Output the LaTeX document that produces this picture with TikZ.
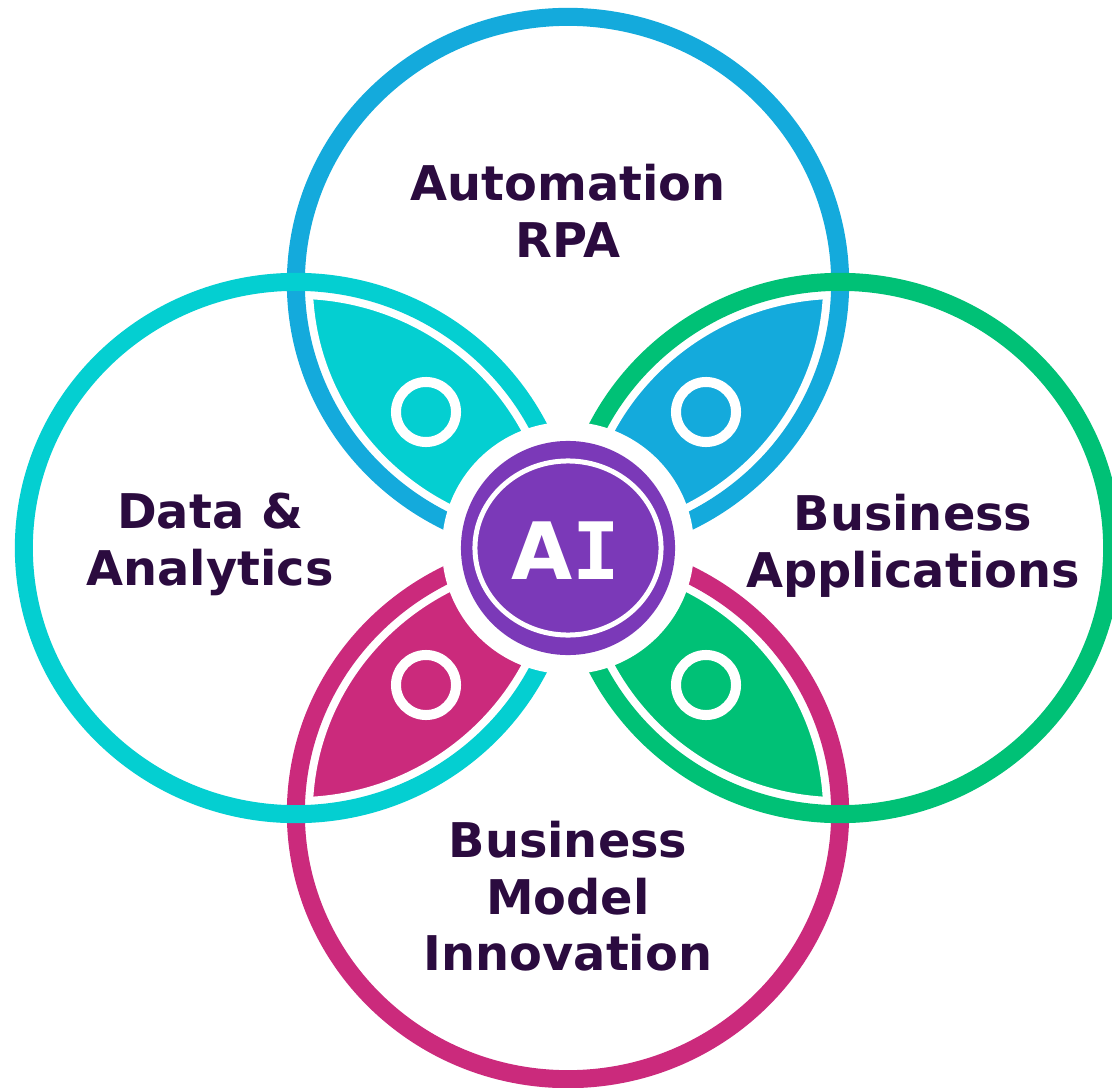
\documentclass[tikz,border=0pt]{standalone}
\usepackage{fontspec}
\setmainfont{DejaVu Sans}
\newfontfamily\monoai{DejaVu Sans Mono}
\definecolor{autoblue}{HTML}{14AADC}
\definecolor{datacyan}{HTML}{04CFD1}
\definecolor{appgreen}{HTML}{00C176}
\definecolor{bmimagenta}{HTML}{CB2A7C}
\definecolor{aipurple}{HTML}{7B39B8}
\definecolor{labelink}{HTML}{2B0B3F}
\tikzset{
	ring/.style={line width=1.8mm},
	halo/.style={white, line width=3.4mm},
	dot/.style={white, line width=1mm},
	topic/.style={text=labelink, anchor=north, inner sep=0pt, align=center,
		font=\bfseries\fontsize{13.6}{16.2}\selectfont},
	oval/.style={x radius=2.72cm, y radius=2.66cm},
}
\begin{document}
\begin{tikzpicture}[x=0.01cm, y=-0.01cm]
	\clip (0,0) rectangle (1112,1088);
	\coordinate (ai) at (568,548);
	\coordinate (top) at (568,283);
	\coordinate (left) at (296,548);
	\coordinate (right) at (840,548);
	\coordinate (bottom) at (568,813);
	% petals
	\begin{scope}
		\clip (top) ellipse [oval];
		\fill[datacyan] (left) ellipse [oval];
		\fill[autoblue] (right) ellipse [oval];
	\end{scope}
	\begin{scope}
		\clip (bottom) ellipse [oval];
		\fill[bmimagenta] (left) ellipse [oval];
		\fill[appgreen] (right) ellipse [oval];
	\end{scope}
	\foreach \c in {top,bottom,left,right}
		\draw[halo] (\c) ellipse [oval];
	\draw[ring, autoblue] (top) ellipse [oval];
	\draw[ring, bmimagenta] (bottom) ellipse [oval];
	\draw[ring, datacyan] (left) ellipse [oval];
	\draw[ring, appgreen] (right) ellipse [oval];
	\foreach \dx/\dy in {-142/-136, 138/-136, -142/137, 138/137}
		\draw[dot] (568+\dx,548+\dy) circle [radius=0.3cm];
	% centre
	\fill[white] (ai) circle [radius=1.26cm];
	\fill[aipurple] (ai) circle [radius=1.07cm];
	\draw[white, line width=0.5mm] (ai) ellipse [x radius=0.93cm, y radius=0.87cm];
	\node[text=white, font=\bfseries\fontsize{22.5}{24}\selectfont] (ailabel) at (566,551) {A\monoai I};

	\node[topic] (automation) at (568,163) {Automation\\RPA};
	\node[topic] (data) at (210,492) {Data \&\\Analytics};
	\node[topic] (apps) at (913,493) {Business\\Applications};
	\node[topic] (bmi) at (568,820) {Business\\Model\\Innovation};
\end{tikzpicture}
\end{document}
